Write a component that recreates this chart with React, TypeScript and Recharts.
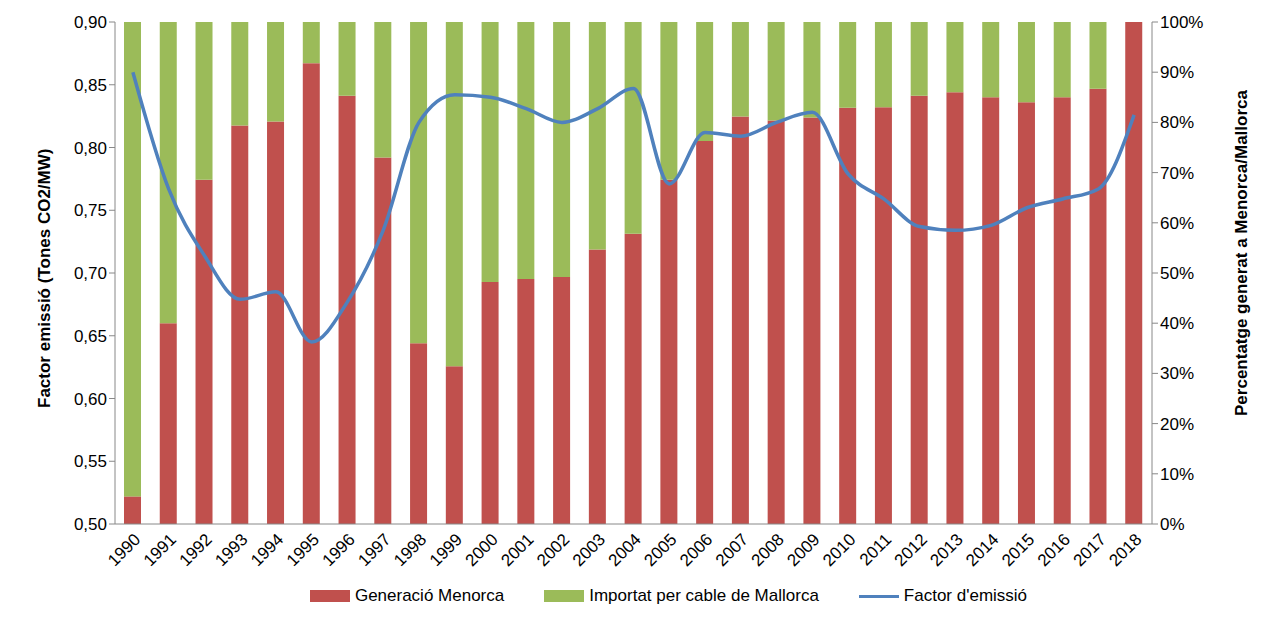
import { ComposedChart, Bar, Line, XAxis, YAxis, Legend } from "recharts";

const years = ["1990","1991","1992","1993","1994","1995","1996","1997","1998","1999","2000","2001","2002","2003","2004","2005","2006","2007","2008","2009","2010","2011","2012","2013","2014","2015","2016","2017","2018"];
const menorca = [5.5,40,68.6,79.4,80.2,91.8,85.3,73,36,31.4,48.2,48.8,49.2,54.7,57.8,68.6,76.3,81.2,80.4,81,82.9,83,85.3,86,85,84,85,86.7,100];
const factor = [0.86,0.767,0.714,0.679,0.685,0.645,0.677,0.734,0.82,0.842,0.84,0.831,0.82,0.831,0.847,0.771,0.812,0.809,0.82,0.828,0.779,0.759,0.737,0.734,0.738,0.752,0.759,0.767,0.826];
const leftTicks = [0.5,0.55,0.6,0.65,0.7,0.75,0.8,0.85,0.9];
const rightTicks = [0,10,20,30,40,50,60,70,80,90,100];

const data = years.map((y, i) => ({
  year: y,
  gen: menorca[i],
  imp: +(100 - menorca[i]).toFixed(1),
  factor: factor[i],
}));

const font = "'Liberation Sans', Arial, sans-serif";
const tick = { fill: "#000", fontSize: 17, fontFamily: font };

const legendItems = [
  { name: "Generació Menorca", color: "#c0504d", type: "rect" },
  { name: "Importat per cable de Mallorca", color: "#9bbb59", type: "rect" },
  { name: "Factor d'emissió", color: "#4f81bd", type: "line" },
];

function LegendContent() {
  return (
    <div style={{ display: "flex", justifyContent: "center", gap: 40, fontFamily: font, fontSize: 17, color: "#000", paddingLeft: 60 }}>
      {legendItems.map((it) => (
        <div key={it.name} style={{ display: "flex", alignItems: "center", gap: 5 }}>
          {it.type === "rect"
            ? <span style={{ width: 40, height: 12, background: it.color, display: "inline-block" }} />
            : <span style={{ width: 40, height: 3, background: it.color, display: "inline-block" }} />}
          <span>{it.name}</span>
        </div>
      ))}
    </div>
  );
}

export default function App() {
  return (
    <div style={{ position: "absolute", left: 0, top: 0, background: "#fff" }}>
      <ComposedChart width={1282} height={636} data={data}
        margin={{ top: 22, right: 60, left: 55, bottom: 30 }}>
        <XAxis dataKey="year" interval={0} angle={-45} textAnchor="end" height={62}
          tick={tick} stroke="#888" tickLine={false} />
        <YAxis yAxisId="l" domain={[0.5, 0.9]} ticks={leftTicks} width={60}
          tickFormatter={(v: number) => v.toFixed(2).replace(".", ",")}
          tick={tick} stroke="#888"
          label={{ value: "Factor emissió (Tones CO2/MW)", angle: -90, position: "insideLeft", dx: -16, dy: 135,
            style: { fontWeight: "bold", fontSize: 17, fontFamily: font, fill: "#000" } }} />
        <YAxis yAxisId="r" orientation="right" domain={[0, 100]} ticks={rightTicks} width={70}
          tickFormatter={(v: number) => v + "%"} tick={tick} stroke="#888"
          label={{ value: "Percentatge generat a Menorca/Mallorca", angle: -90, position: "insideRight", dx: 24, dy: -20,
            style: { fontWeight: "bold", fontSize: 17, fontFamily: font, fill: "#000", textAnchor: "middle" } }} />
        <Legend verticalAlign="bottom" content={<LegendContent />} />
        <Bar yAxisId="r" dataKey="gen" stackId="a" fill="#c0504d" barSize={17} isAnimationActive={false} />
        <Bar yAxisId="r" dataKey="imp" stackId="a" fill="#9bbb59" barSize={17} isAnimationActive={false} />
        <Line yAxisId="l" dataKey="factor" type="monotone" stroke="#4f81bd" strokeWidth={3.5} dot={false}
          isAnimationActive={false} />
      </ComposedChart>
    </div>
  );
}
